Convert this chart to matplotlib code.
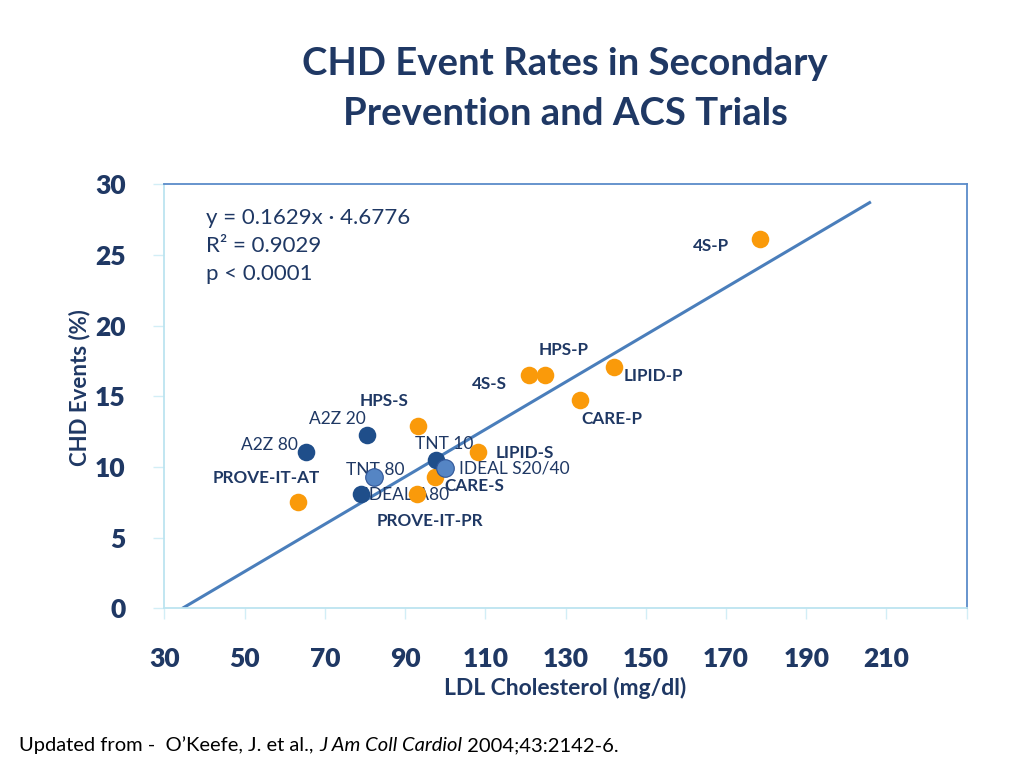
import numpy as np
import matplotlib
matplotlib.use("Agg")
import matplotlib.pyplot as plt
import matplotlib.transforms as mtransforms

plt.rcParams['font.family'] = ['Lato', 'DejaVu Sans']

# =========================
# Dados
# =========================

# estudos com estatina "padrão" (laranja)
nomes_lar = ["4S-P", "LIPID-P", "HPS-P", "4S-S", "CARE-P", "HPS-S",
             "LIPID-S", "CARE-S", "PROVE-IT-PR", "PROVE-IT-AT"]
ldl_lar = [178.4, 142.0, 124.8, 120.9, 133.6, 93.1, 108.1, 97.4, 93.0, 63.4]
chd_lar = [26.1, 17.1, 16.5, 16.5, 14.75, 12.9, 11.1, 9.3, 8.1, 7.5]

# estudos em azul escuro
nomes_esc = ["A2Z 80", "A2Z 20", "TNT 10", "IDEAL A80"]
ldl_esc = [65.3, 80.4, 97.8, 79.0]
chd_esc = [11.1, 12.3, 10.5, 8.1]

# estudos em azul claro
nomes_cla = ["TNT 80", "IDEAL S20/40"]
ldl_cla = [82.2, 99.9]
chd_cla = [9.3, 9.9]

# linha de tendência (extremos como desenhados)
linha_x = [34.7, 205.8]
linha_y = [0.05, 28.7]

x_ticks = [30, 50, 70, 90, 110, 130, 150, 170, 190, 210, 230]
x_labels = ["30", "50", "70", "90", "110", "130", "150", "170", "190", "210", ""]
y_ticks = [0, 5, 10, 15, 20, 25, 30]

# deslocamento dos rótulos (pixels, y para baixo)
desloc = {
    "4S-P": (-49, 7), "LIPID-P": (40, 9), "HPS-P": (19, -25), "4S-S": (-40, 9),
    "CARE-P": (32, 19), "HPS-S": (-33, -25), "LIPID-S": (47, 1),
    "CARE-S": (40, 9), "PROVE-IT-PR": (13, 27), "PROVE-IT-AT": (-32, -24),
    "A2Z 80": (-37, -7), "A2Z 20": (-29, -16), "TNT 10": (8, -16),
    "IDEAL A80": (46, 1), "TNT 80": (1, -7), "IDEAL S20/40": (69, 0),
}

azul_txt = "#1F3864"
laranja = "#FA9A0A"
azul_esc = "#1F4E8A"
azul_cla = "#5585C4"

fig = plt.figure(figsize=(10.24, 7.68), dpi=100)
ax = fig.add_axes([0.1606, 0.2077, 0.7834, 0.5524])

ax.plot(linha_x, linha_y, color="#4A7EBB", linewidth=2.2, zorder=2)

ax.scatter(ldl_lar, chd_lar, s=160, color=laranja, zorder=4, linewidths=0)
ax.scatter(ldl_esc, chd_esc, s=160, color=azul_esc, zorder=4, linewidths=0)
ax.scatter(ldl_cla, chd_cla, s=160, color=azul_cla, zorder=5,
           edgecolors="#2F5597", linewidths=0.8)

for nome, x, y in zip(nomes_lar, ldl_lar, chd_lar):
    dx, dy = desloc[nome]
    ax.annotate(nome, (x, y), xytext=(dx, -dy), textcoords="offset pixels",
                ha="center", va="center", fontsize=12.3, fontweight="bold",
                color=azul_txt, zorder=3)

for nome, x, y in zip(nomes_esc + nomes_cla, ldl_esc + ldl_cla, chd_esc + chd_cla):
    dx, dy = desloc[nome]
    ax.annotate(nome, (x, y), xytext=(dx, -dy), textcoords="offset pixels",
                ha="center", va="center", fontsize=12.5, color=azul_txt, zorder=3)

ax.set_xlim(30, 230)
ax.set_ylim(0, 30)
ax.set_xticks(x_ticks)
ax.set_xticklabels(x_labels)
ax.set_yticks(y_ticks)

desl_x = mtransforms.ScaledTranslation(5 / 100, 0, fig.dpi_scale_trans)
for lab in ax.get_xticklabels():
    lab.set_transform(lab.get_transform() + desl_x)

for lab in ax.get_xticklabels() + ax.get_yticklabels():
    lab.set_fontweight("heavy")
    lab.set_color(azul_txt)
    lab.set_fontsize(19)

ax.tick_params(axis="x", length=8, width=1, color="#D2EEF6", pad=20)
ax.tick_params(axis="y", length=8, width=1, color="#D2EEF6", pad=20)

ax.spines["top"].set_color("#5B8BC9")
ax.spines["right"].set_color("#5B8BC9")
ax.spines["left"].set_color("#BCE4F0")
ax.spines["bottom"].set_color("#BCE4F0")
for s in ax.spines.values():
    s.set_linewidth(1.3)

ax.set_xlabel("LDL Cholesterol (mg/dl)", fontsize=16.5, fontweight="bold",
              color=azul_txt, labelpad=4)
ax.set_ylabel("CHD Events (%)", fontsize=16, fontweight="bold",
              color=azul_txt, va="center")
ax.yaxis.set_label_coords(-0.106, 0.52)

# equação
ax.text(0.052, 0.945, "y = 0.1629x \u00b7 4.6776\nR\u00b2 = 0.9029\np < 0.0001",
        transform=ax.transAxes, ha="left", va="top", fontsize=16,
        color=azul_txt, linespacing=1.5)

# título
fig.text(0.552, 0.884, "CHD Event Rates in Secondary\nPrevention and ACS Trials",
         ha="center", va="center", fontsize=27.5, fontweight="bold",
         color=azul_txt, linespacing=1.6)

# fonte
y_rod = 0.022
t1 = fig.text(0.019, y_rod, "Updated from -  O\u2019Keefe, J. et al., ",
              ha="left", va="baseline", fontsize=14.5, color="black")
t2 = fig.text(0, y_rod, "J Am Coll Cardiol", fontsize=14.5, style="italic",
              color="black", ha="left", va="baseline")
fig.canvas.draw()
r = fig.canvas.get_renderer()
bb = t1.get_window_extent(r)
t2.set_position((bb.x1 / fig.bbox.width, y_rod))
fig.canvas.draw()
bb2 = t2.get_window_extent(r)
fig.text(bb2.x1 / fig.bbox.width, y_rod, " 2004;43:2142-6.", fontsize=14.5,
         color="black", ha="left", va="baseline")

fig.savefig("out.png", dpi=100)
